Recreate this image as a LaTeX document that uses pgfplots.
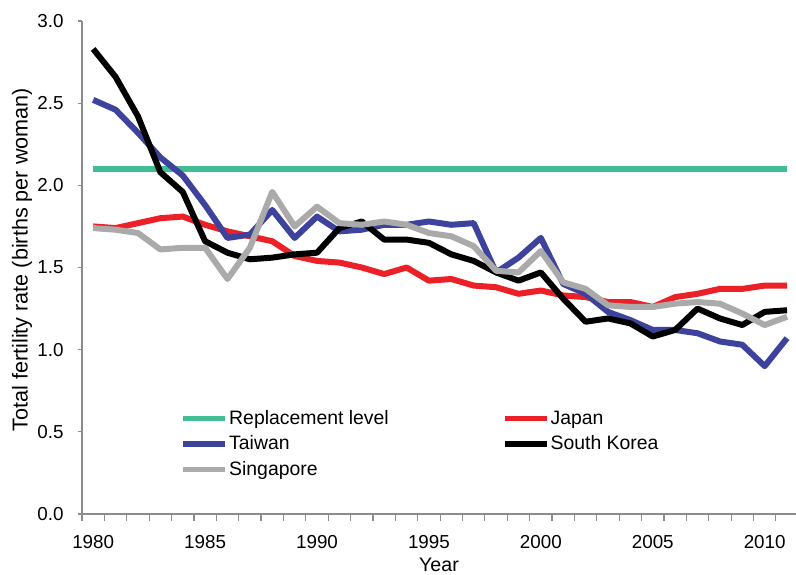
\documentclass[border=0pt]{standalone}
\usepackage{fontspec}
\setmainfont{Liberation Sans}
\usepackage{pgfplots}
\usepackage{pgfplotstable}
\pgfplotsset{compat=1.18}
\definecolor{repl}{RGB}{64,189,145}
\definecolor{jpred}{RGB}{236,32,39}
\definecolor{twblue}{RGB}{61,66,156}
\definecolor{sggray}{RGB}{170,170,170}
\definecolor{axgray}{RGB}{140,140,140}
\pgfplotstableread{
year jp tw kr sg
1980 1.75 2.52 2.83 1.74
1981 1.74 2.46 2.66 1.73
1982 1.77 2.32 2.42 1.71
1983 1.80 2.17 2.08 1.61
1984 1.81 2.06 1.96 1.62
1985 1.76 1.88 1.66 1.62
1986 1.72 1.68 1.59 1.43
1987 1.69 1.70 1.55 1.62
1988 1.66 1.85 1.56 1.96
1989 1.57 1.68 1.58 1.75
1990 1.54 1.81 1.59 1.87
1991 1.53 1.72 1.74 1.77
1992 1.50 1.73 1.78 1.76
1993 1.46 1.76 1.67 1.78
1994 1.50 1.76 1.67 1.76
1995 1.42 1.78 1.65 1.71
1996 1.43 1.76 1.58 1.69
1997 1.39 1.77 1.54 1.63
1998 1.38 1.47 1.47 1.48
1999 1.34 1.56 1.42 1.47
2000 1.36 1.68 1.47 1.60
2001 1.33 1.40 1.31 1.41
2002 1.32 1.34 1.17 1.37
2003 1.29 1.23 1.19 1.27
2004 1.29 1.18 1.16 1.26
2005 1.26 1.12 1.08 1.26
2006 1.32 1.12 1.12 1.28
2007 1.34 1.10 1.25 1.29
2008 1.37 1.05 1.19 1.28
2009 1.37 1.03 1.15 1.22
2010 1.39 0.90 1.23 1.15
2011 1.39 1.07 1.24 1.20
}\tfr
\begin{document}
\fontsize{9.5}{11}\selectfont
\begin{tikzpicture}
\begin{axis}[
  scale only axis,
  width=357pt, height=246.5pt,
  xmin=1979.5, xmax=2011.4,
  ymin=0, ymax=3,
  axis x line=bottom, axis y line=left,
  axis line style={-, axgray, line width=0.6pt},
  tick style={axgray, line width=0.6pt},
  tick align=outside,
  xtick={1980,1985,...,2010},
  major x tick style={draw=none},
  minor xtick={1979.5,1980.5,...,2011},
  minor tick length=3.5pt,
  major tick length=2pt,
  ytick={0,0.5,...,3},
  /pgf/number format/assume math mode=true,
  yticklabel style={/pgf/number format/fixed, /pgf/number format/fixed zerofill, /pgf/number format/precision=1, anchor=east, xshift=-7pt},
  xticklabel style={/pgf/number format/1000 sep={}, anchor=center, yshift=-12pt},
  ticklabel style={font=\fontsize{9.4}{11}\selectfont, text=black, inner sep=0pt},
  xlabel={Year}, ylabel={Total fertility rate (births per woman)},
  xlabel style={font=\fontsize{9.8}{11}\selectfont, at={(axis description cs:0.5,-0.103)}, anchor=center},
  ylabel style={font=\fontsize{10.8}{12}\selectfont, at={(axis description cs:-0.084,0.516)}, anchor=center},
  legend style={draw=none, fill=none, at={(axis cs:1983.62,0.665)}, anchor=north west,
    legend columns=2, row sep=3pt, nodes={inner sep=0.6pt}, font=\fontsize{9.7}{11}\selectfont},
  legend cell align=left,
  /tikz/every even column/.append style={column sep=56pt},
  legend image code/.code={\draw[#1, line width=2.7pt] (0pt,0pt) -- (21pt,0pt);},
  every axis plot/.append style={line width=3pt, line join=round},
]
\addplot[repl, no markers] coordinates {(1980,2.1) (2011,2.1)};
\addlegendentry{Replacement level}
\addplot[jpred, no markers] table[x=year,y=jp]{\tfr};
\addlegendentry{Japan}
\addplot[twblue, no markers] table[x=year,y=tw]{\tfr};
\addlegendentry{Taiwan}
\addplot[black, no markers] table[x=year,y=kr]{\tfr};
\addlegendentry{South Korea}
\addplot[sggray, no markers] table[x=year,y=sg]{\tfr};
\addlegendentry{Singapore}
\end{axis}
\pgfresetboundingbox
\path (-41pt,-30pt) rectangle (357pt,257pt);
\end{tikzpicture}
\end{document}
